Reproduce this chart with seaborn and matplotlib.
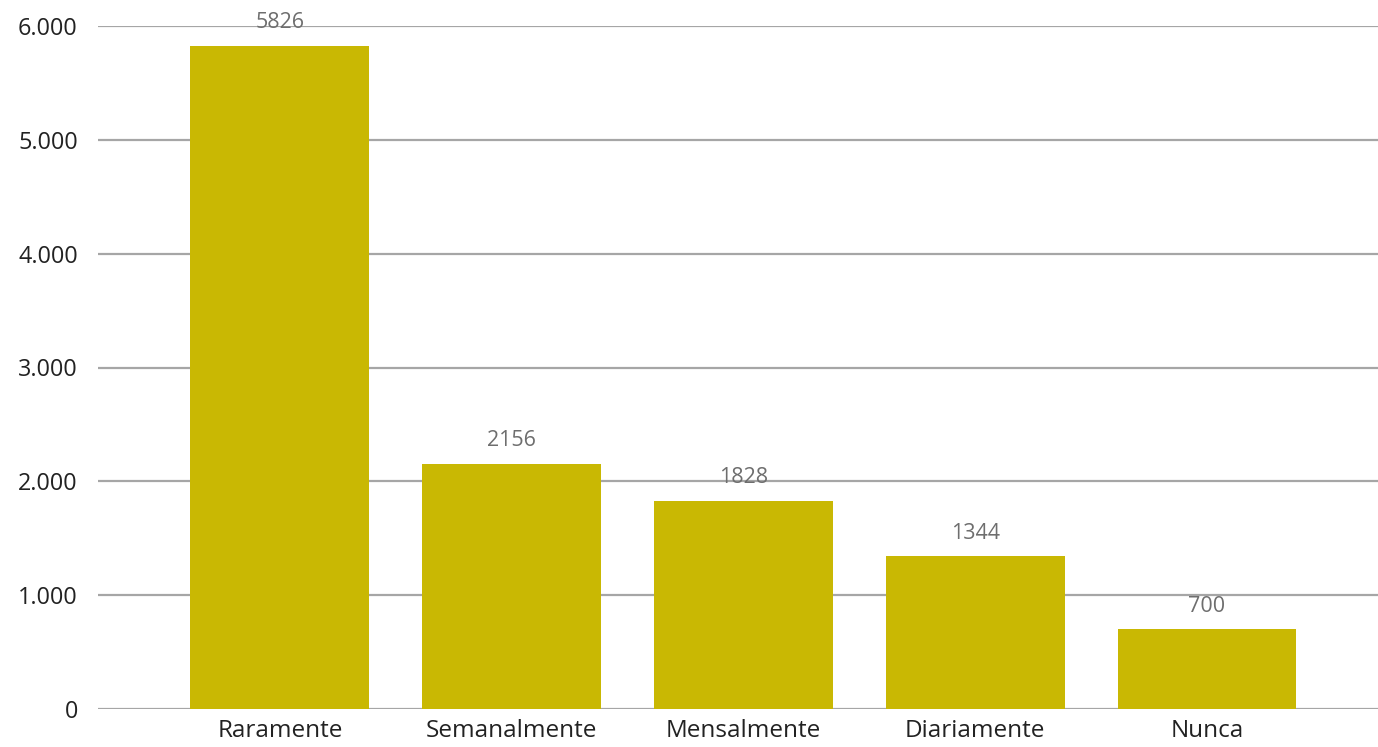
import matplotlib
matplotlib.use("Agg")
import matplotlib.pyplot as plt
import matplotlib.ticker as mticker
import seaborn as sns
import pandas as pd

categories = ["Raramente", "Semanalmente", "Mensalmente", "Diariamente", "Nunca"]
values = [5826, 2156, 1828, 1344, 700]
yticks = [0, 1000, 2000, 3000, 4000, 5000, 6000]

sns.set_theme(style="white")
plt.rcParams['font.family'] = ['Open Sans', 'DejaVu Sans']

W, H = 1378, 747
fig = plt.figure(figsize=(W / 100, H / 100), dpi=100)
ax = fig.add_axes([98 / W, 1 - 709 / H, (W - 98) / W, (709 - 26) / H])

df = pd.DataFrame({"cat": categories, "val": values})
sns.barplot(data=df, x="cat", y="val", color="#C9B803", saturation=1,
            width=0.772, linewidth=0, ax=ax, zorder=3)

ax.set_xlim(-0.785, 4.738)
ax.set_ylim(0, 6000)
ax.set_yticks(yticks)
ax.yaxis.set_major_formatter(mticker.FuncFormatter(lambda v, p: f"{int(v):,}".replace(",", ".")))
ax.grid(axis="y", color="#A6A6A6", linewidth=1.6, zorder=0)
ax.grid(axis="x", visible=False)
for s in ax.spines.values():
    s.set_visible(False)
ax.set_xlabel("")
ax.set_ylabel("")
ax.tick_params(axis="y", length=0, pad=14.5, labelsize=16.8, labelcolor="#222222")
ax.tick_params(axis="x", length=0, pad=7, labelsize=17.5, labelcolor="#222222")

for i, v in enumerate(values):
    ax.annotate(f"{v}", xy=(i, v), xytext=(0, 9), textcoords="offset points",
                ha="center", va="bottom", fontsize=15.5, color="#6E6E6E",
                annotation_clip=False, zorder=4)

fig.savefig("out.png", dpi=100)
